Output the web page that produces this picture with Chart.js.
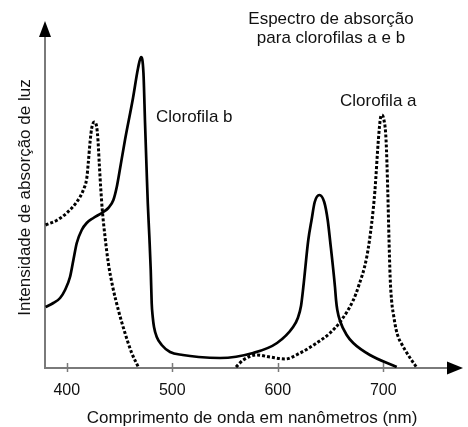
<!DOCTYPE html>
<html>
<head>
<meta charset="utf-8">
<script src="https://cdn.jsdelivr.net/npm/chart.js@4/dist/chart.umd.min.js"></script>
<style>
  html, body { margin: 0; padding: 0; background: #fff; }
  #wrap { width: 468px; height: 427px; }
</style>
</head>
<body>
<div id="wrap"><canvas id="c" width="468" height="427"></canvas></div>
<script>
// ---- data ----
const tickValues = [400, 500, 600, 700];

const chlBWavelength = [380, 387.3, 393.7, 398.4, 403.1, 406.3, 409.5, 414.2, 418.9, 425.2,
  433.2, 439.4, 444.2, 447.4, 449.8, 455.2, 462.8, 467.6, 470.4, 472.7,
  474.2, 475.7, 476.8, 478.3, 479.6, 480.5, 481.5, 482.7, 485.3, 490,
  497.9, 510, 525, 545.3, 576.6, 599.3, 614.5, 619, 622, 624.2, 628.9,
  632, 635, 639.4, 644, 647.3, 649.5, 654.2, 655.2, 656.4, 659,
  665.3, 671.5, 687.3, 712.7];
const chlBIntensity = [61, 65, 70, 78, 91, 108, 125, 138, 145, 150,
  155, 160, 168, 181, 195, 228, 270, 300, 311, 295,
  245, 198, 165, 131, 98, 65, 51, 41, 31, 23,
  16, 13, 11, 10, 15, 25, 41, 50, 62, 81, 128,
  148, 166, 173, 166, 148, 128, 81, 68, 58, 47,
  33, 25, 13, 1];

const chlAWavelength = [380, 391.1, 400, 409.5, 415.7, 419, 420.4, 422.1, 423.7, 426,
  428.4, 429.6, 430.9, 432.2, 433.7, 436.3, 439.4, 443.6, 448.9, 455.2,
  461.6, 467.8, 510, 560.4, 567.3, 580, 592.6, 606.9, 621.1, 636.9,
  649.5, 659, 671.6, 676.3, 684.3, 689, 692.1, 695.3, 697.3, 698.5,
  700.2, 702.6, 704.2, 705.4, 706.5, 707.8, 710, 712, 714.5, 717.4, 720.6,
  725.4, 730, 731.9];
const chlAIntensity = [143, 148, 155, 166, 178, 190, 205, 226, 240, 246,
  241, 228, 203, 180, 158, 131, 105, 81, 58, 35,
  15, 1, null, 1, 8, 13, 11, 9, 15, 25,
  35, 46, 68, 81, 111, 145, 178, 228, 250, 253,
  250, 228, 178, 128, 90, 68, 51, 39, 30, 24, 18,
  10, 3, 0];

const titleLines = ['Espectro de absorção', 'para clorofilas a e b'];
const xTitle = 'Comprimento de onda em nanômetros (nm)';
const yTitle = 'Intensidade de absorção de luz';
const labelB = 'Clorofila b';
const labelA = 'Clorofila a';

const zip = (xs, ys) => xs.map((x, i) => ({ x: x, y: ys[i] }));

const FONT = '"Liberation Sans", Arial, Helvetica, sans-serif';
const AXIS_COLOR = '#7a7a7a';

const decor = {
  id: 'decor',
  afterDraw(chart) {
    const ctx = chart.ctx;
    const a = chart.chartArea;
    const xs = chart.scales.x;
    ctx.save();
    ctx.strokeStyle = AXIS_COLOR;
    ctx.lineWidth = 1.5;
    tickValues.forEach(v => {
      const px = Math.round(xs.getPixelForValue(v)) + 0.5;
      ctx.beginPath();
      ctx.moveTo(px, a.bottom - 5);
      ctx.lineTo(px, a.bottom + 4);
      ctx.stroke();
    });
    ctx.fillStyle = '#000';
    ctx.beginPath();
    ctx.moveTo(a.left, a.top - 15);
    ctx.lineTo(a.left - 6, a.top + 1);
    ctx.lineTo(a.left + 6, a.top + 1);
    ctx.closePath();
    ctx.fill();
    ctx.beginPath();
    ctx.moveTo(a.right + 15, a.bottom);
    ctx.lineTo(a.right - 1, a.bottom - 6.5);
    ctx.lineTo(a.right - 1, a.bottom + 6.5);
    ctx.closePath();
    ctx.fill();
    ctx.fillStyle = '#111';
    ctx.font = '17px ' + FONT;
    ctx.textAlign = 'center';
    ctx.textBaseline = 'alphabetic';
    ctx.fillText(titleLines[0], 331, 23.5);
    ctx.fillText(titleLines[1], 331, 42.5);
    ctx.textAlign = 'left';
    ctx.fillText(labelB, 156, 122);
    ctx.fillText(labelA, 340, 106);
    ctx.textAlign = 'center';
    ctx.fillText(xTitle, 252, 423);
    ctx.translate(29.5, 197.5);
    ctx.rotate(-Math.PI / 2);
    ctx.fillText(yTitle, 0, 0);
    ctx.restore();
  }
};

new Chart(document.getElementById('c'), {
  type: 'line',
  data: {
    datasets: [
      {
        label: labelB,
        data: zip(chlBWavelength, chlBIntensity),
        borderColor: '#000',
        borderWidth: 2.7,
        pointRadius: 0,
        cubicInterpolationMode: 'monotone',
        fill: false
      },
      {
        label: labelA,
        data: zip(chlAWavelength, chlAIntensity),
        borderColor: '#000',
        borderWidth: 3,
        borderDash: [3, 2],
        borderCapStyle: 'butt',
        pointRadius: 0,
        spanGaps: false,
        cubicInterpolationMode: 'monotone',
        fill: false
      }
    ]
  },
  options: {
    responsive: false,
    devicePixelRatio: 1,
    animation: false,
    layout: { padding: { top: 36, right: 20, bottom: 0, left: 0 } },
    plugins: { legend: { display: false }, tooltip: { enabled: false }, title: { display: false } },
    scales: {
      x: {
        type: 'linear',
        min: 379.4,
        max: 761.3,
        afterBuildTicks(s) { s.ticks = tickValues.map(v => ({ value: v })); },
        afterFit(s) { s.height = 59; },
        grid: { display: false, drawTicks: false },
        border: { display: true, color: AXIS_COLOR, width: 2 },
        ticks: { color: '#111', font: { family: FONT, size: 16 }, padding: 13, maxRotation: 0, autoSkip: false }
      },
      y: {
        type: 'linear',
        min: 0,
        max: 332,
        afterFit(s) { s.width = 45; },
        grid: { display: false, drawTicks: false },
        border: { display: true, color: AXIS_COLOR, width: 2 },
        ticks: { display: false }
      }
    }
  },
  plugins: [decor]
});
</script>
</body>
</html>
